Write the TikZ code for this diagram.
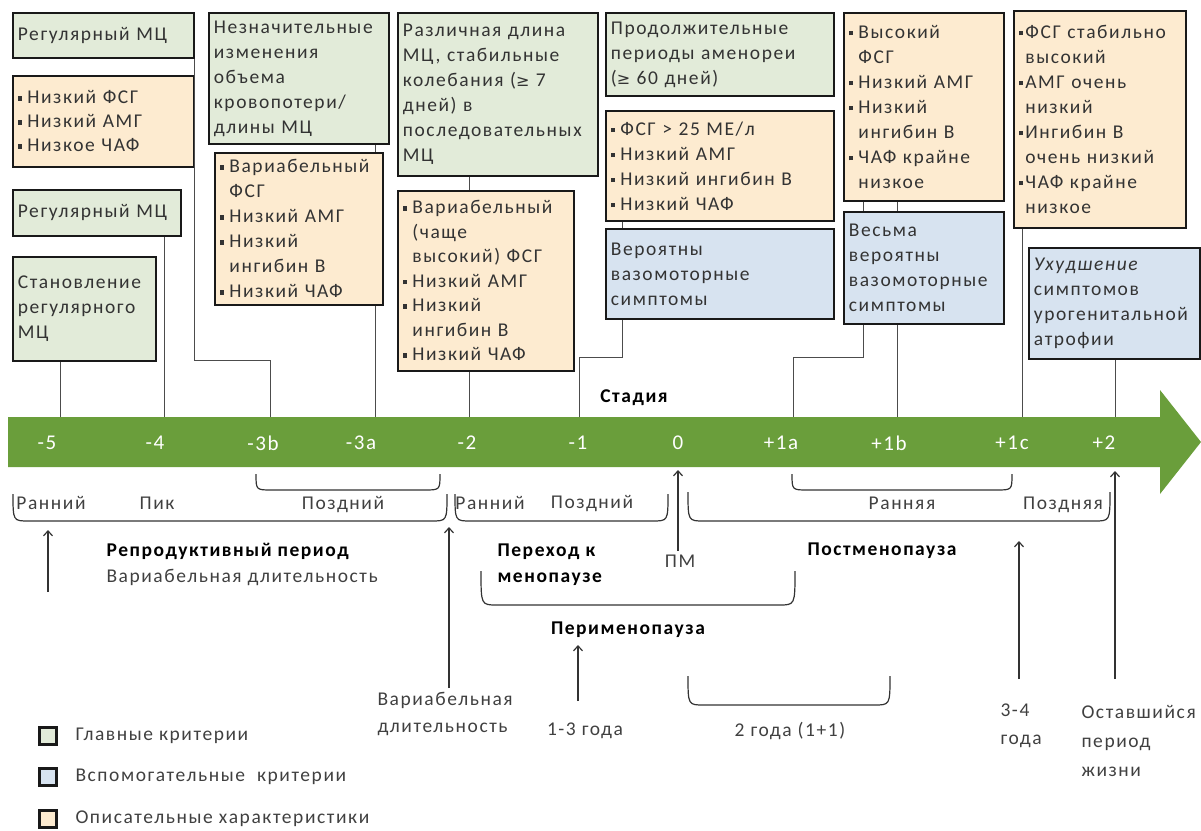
\documentclass[tikz,border=0pt]{standalone}
\usepackage{fontspec}
\setmainfont{Carlito}[LetterSpace=8]
\newfontfamily\symfont{DejaVu Sans}
\usetikzlibrary{arrows.meta}
\definecolor{stagegreen}{RGB}{106,158,59}
\definecolor{gfill}{RGB}{226,235,217}
\definecolor{ofill}{RGB}{253,235,208}
\definecolor{bfill}{RGB}{215,227,240}
\definecolor{txtgray}{RGB}{64,64,64}
\newcommand\sqb{\rule[3pt]{4.5pt}{4.5pt}\hspace{5pt}}
\newcommand\sqc{\rule[3pt]{4.5pt}{4.5pt}\hspace{2pt}}
\newcommand\sqind{\hspace*{9.5pt}}
\newcommand\gesym{{\symfont\fontsize{16}{25}\selectfont ≥}}
\begin{document}
\begin{tikzpicture}[x=1pt, y=-1pt,
    every node/.style={font=\fontsize{19.5}{25}\selectfont, text=txtgray,
        execute at begin node={\hyphenpenalty=10000\exhyphenpenalty=10000}},
    box/.style={draw=black!90, line width=1.8pt, anchor=north west, align=left,
        inner xsep=5pt, inner ysep=2pt, text=black!80},
    sz/.code 2 args={\pgfmathsetmacro\boxw{#1-10}%
        \tikzset{minimum width=#1pt, minimum height=#2pt, text width=\boxw pt}},
    gbox/.style={box, fill=gfill},
    obox/.style={box, fill=ofill},
    bbox/.style={box, fill=bfill},
    conn/.style={draw=black!70, line width=1pt},
    brk/.style={draw=black!80, line width=1.2pt},
    up/.style={-{Straight Barb[length=5pt,width=9pt]}, draw=black!80, line width=1.2pt},
    stage/.style={text=white, font=\fontsize{21}{24}\selectfont},
    lbl/.style={align=left, anchor=west},
    hd/.style={font=\fontsize{19.5}{26}\selectfont\bfseries, text=black}]
    \useasboundingbox (0,0) rectangle (1201,830);

    % Stage arrow
    \fill[stagegreen] (8,417) -- (1160,417) -- (1160,390) -- (1201,442)
        -- (1160,494) -- (1160,467) -- (8,467) -- cycle;
    \foreach \lab/\xx/\nm in {-5/47/m5, -4/155/m4, -3b/263/m3b, -3a/361/m3a,
        -2/467/m2, -1/578/m1, 0/678/z0, +1a/781/p1a, +1b/889/p1b, +1c/1012/p1c, +2/1104/p2}
        \node[stage] (\nm) at (\xx,443) {\lab};
    \node[hd] (stadia) at (634,398) {Стадия};

    % Criteria boxes
    \node[gbox, sz={181}{45}] (gA) at (12,12) {Регулярный МЦ};
    \node[obox, sz={181}{91}, font=\fontsize{19.5}{24}\selectfont] (oA) at (12,75)
        {\sqb Низкий ФСГ\\\sqb Низкий АМГ\\\sqb Низкое ЧАФ};
    \node[gbox, sz={168}{46}] (gB) at (12,189) {Регулярный МЦ};
    \node[gbox, sz={143}{104}] (gC) at (12,256) {Становление\\регулярного\\МЦ};
    \node[gbox, sz={180}{131}] (gD) at (208,12)
        {Незначительные\\изменения\\объема\\кровопотери/\\длины МЦ};
    \node[obox, sz={168}{152}] (oD) at (214,152)
        {\sqb Вариабельный\\\sqind ФСГ\\\sqb Низкий АМГ\\\sqb Низкий\\\sqind ингибин В\\\sqb Низкий ЧАФ};
    \node[gbox, sz={200}{163}] (gE) at (397,12)
        {Различная длина\\МЦ, стабильные\\колебания (\gesym\ 7\\дней) в\\последовательных\\МЦ};
    \node[obox, sz={176}{180}, font=\fontsize{19.5}{24.5}\selectfont] (oE) at (397,190)
        {\sqb Вариабельный\\\sqind (чаще\\\sqind высокий) ФСГ\\\sqb Низкий АМГ\\\sqb Низкий\\\sqind ингибин В\\\sqb Низкий ЧАФ};
    \node[gbox, sz={228}{83}] (gF) at (605,12)
        {Продолжительные\\периоды аменореи\\(\gesym\ 60 дней)};
    \node[obox, sz={228}{110}] (oF) at (605,110)
        {\sqb ФСГ > 25 МЕ/л\\\sqb Низкий АМГ\\\sqb Низкий ингибин В\\\sqb Низкий ЧАФ};
    \node[bbox, sz={228}{90}] (bF) at (605,228) {Вероятны\\вазомоторные\\симптомы};
    \node[obox, sz={160}{188}] (oG) at (843,12)
        {\sqb Высокий\\\sqind ФСГ\\\sqb Низкий АМГ\\\sqb Низкий\\\sqind ингибин В\\\sqb ЧАФ крайне\\\sqind низкое};
    \node[bbox, sz={160}{112}] (bG) at (843,211) {Весьма\\вероятны\\вазомоторные\\симптомы};
    \node[obox, sz={172}{217}] (oH) at (1013,10)
        {\sqc ФСГ стабильно\\\hspace*{6.5pt}высокий\\\sqc АМГ очень\\\hspace*{6.5pt}низкий\\\sqc Ингибин В\\\hspace*{6.5pt}очень низкий\\\sqc ЧАФ крайне\\\hspace*{6.5pt}низкое};
    \node[bbox, sz={171}{111}] (bH) at (1028,247)
        {\textit{Ухудшение}\\симптомов\\урогенитальной\\атрофии};

    % Connectors to the stages
    \coordinate (s5) at (60,417); \coordinate (s4) at (164,417);
    \coordinate (s3b) at (270,417); \coordinate (s3a) at (375,417);
    \coordinate (s2) at (469,417); \coordinate (s1) at (579,417);
    \coordinate (s1a) at (793,417); \coordinate (s1b) at (897,417);
    \coordinate (s1c) at (1022,417); \coordinate (s2p) at (1115,417);
    \coordinate (k3b) at (270,360); \coordinate (k1) at (579,357);
    \coordinate (k1a) at (793,357);
    \draw[conn] (gA.south east) |- (k3b) -- (s3b);
    \draw[conn] (gB.south -| s4) -- (s4);
    \draw[conn] (gC.south -| s5) -- (s5);
    \draw[conn] (gD.south -| s3a) -- (oD.north -| s3a);
    \draw[conn] (oD.south -| s3a) -- (s3a);
    \draw[conn] (gE.south -| s2) -- (oE.north -| s2);
    \draw[conn] (oE.south -| s2) -- (s2);
    \draw[conn] ([xshift=17pt]oF.south west) -- ([xshift=17pt]bF.north west);
    \draw[conn] ([xshift=17pt]bF.south west) |- (k1) -- (s1);
    \draw[conn] ([xshift=20pt]oG.south west) -- ([xshift=20pt]bG.north west);
    \draw[conn] (oG.south -| s1b) -- (bG.north -| s1b);
    \draw[conn] ([xshift=20pt]bG.south west) |- (k1a) -- (s1a);
    \draw[conn] (bG.south -| s1b) -- (s1b);
    \draw[conn] (oH.south -| s1c) -- (s1c);
    \draw[conn] (bH.south -| s2p) -- (s2p);

    % Period brackets
    \foreach \xa/\xb/\ya/\yb in {256/440/474/490, 13/447/494/521, 455/668/494/521,
        688/1110/492/521, 792/1012/474/490, 481/795/571/605, 688/890/676/705}
        \draw[brk] (\xa,\ya) .. controls (\xa,\yb) .. (\xa+16,\yb)
            -- (\xb-16,\yb) .. controls (\xb,\yb) .. (\xb,\ya);

    % Period labels
    \node (rA) at (51,503) {Ранний};
    \node (pik) at (157,503) {Пик};
    \node (pzA) at (343,505) {Поздний};
    \node (rB) at (490,503) {Ранний};
    \node (pzB) at (592,504) {Поздний};
    \node (rC) at (902,503) {Ранняя};
    \node (pzC) at (1063,505) {Поздняя};
    \node[lbl, font=\fontsize{19.5}{26}\selectfont] (repro) at (103,564)
        {\textbf{\color{black}Репродуктивный период}\\Вариабельная длительность};
    \node[lbl, hd] (trans) at (494,565) {Переход к\\менопаузе};
    \node (pm) at (680,561) {ПМ};
    \node[hd] (post) at (882,551) {Постменопауза};
    \node[hd] (peri) at (628,630) {Перименопауза};

    % Durations
    \node[lbl, font=\fontsize{19.5}{27}\selectfont] (varlen) at (374,714) {Вариабельная\\длительность};
    \node (y13) at (585,731) {1-3 года};
    \node (y2) at (790,731) {2 года (1+1)};
    \node[lbl, font=\fontsize{19.5}{28}\selectfont] (y34) at (997,726) {3-4\\года};
    \node[lbl, font=\fontsize{19.5}{29}\selectfont] (rest) at (1078,741) {Оставшийся\\период\\жизни};
    \coordinate (r0) at (48,592); \coordinate (r1) at (48,530);
    \coordinate (v0) at (449,688); \coordinate (v1) at (449,527);
    \coordinate (pm1) at (678,470);
    \coordinate (q0) at (578,701); \coordinate (q1) at (578,645);
    \coordinate (t0) at (1019,679); \coordinate (t1) at (1019,541);
    \coordinate (e0) at (1115,679); \coordinate (e1) at (1115,471);
    \draw[up] (r0) -- (r1);
    \draw[up] (v0) -- (v1);
    \draw[up] (pm.north -| pm1) -- (pm1);
    \draw[up] (q0) -- (q1);
    \draw[up] (t0) -- (t1);
    \draw[up] (e0) -- (e1);

    % Legend
    \foreach \fc/\yy/\nm/\txt in {gfill/736/lgA/Главные критерии,
        bfill/777/lgB/Вспомогательные\ \ критерии, ofill/819/lgC/Описательные характеристики}{
        \node[draw=black!90, line width=2.2pt, fill=\fc, minimum size=17pt, inner sep=0] (\nm) at (48,\yy) {};
        \node[lbl] (\nm t) at (72,\yy) {\txt};
    }
\end{tikzpicture}
\end{document}
